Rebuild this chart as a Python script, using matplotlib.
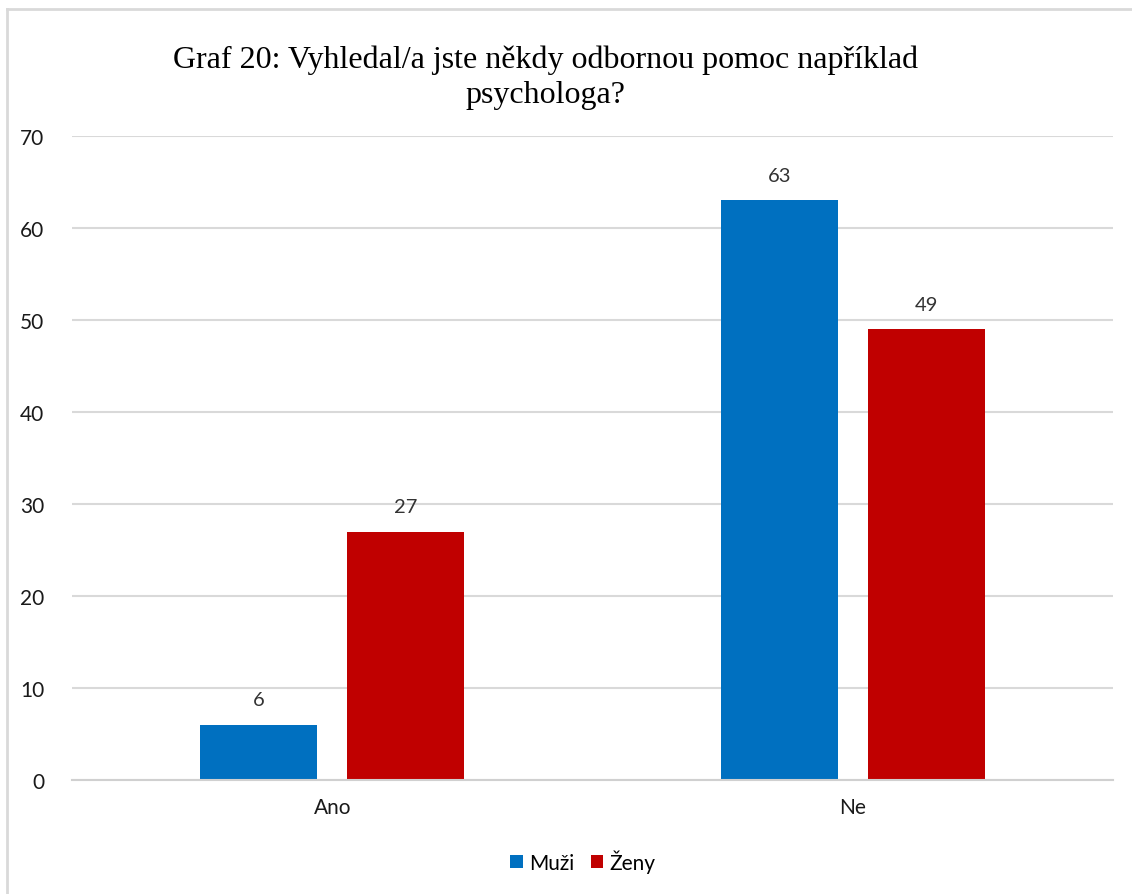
import matplotlib
matplotlib.use('Agg')
from matplotlib import pyplot as plt
from matplotlib.lines import Line2D
import numpy as np

categories = ['Ano', 'Ne']
muzi = [6, 63]
zeny = [27, 49]
series_names = ['Muži', 'Ženy']
colors = ['#0070C0', '#C00000']
yticks = [0, 10, 20, 30, 40, 50, 60, 70]

plt.rcParams['font.family'] = ['Lato', 'DejaVu Sans']

fig = plt.figure(figsize=(11.32, 8.95), dpi=100)
ax = fig.add_axes([0.0636, 0.1274, 0.9196, 0.7195])

x = np.arange(len(categories))
w = 0.225
off = 0.141
b1 = ax.bar(x - off, muzi, w, color=colors[0], label=series_names[0])
b2 = ax.bar(x + off, zeny, w, color=colors[1], label=series_names[1])

for bars in (b1, b2):
    for b in bars:
        ax.annotate(str(int(b.get_height())), (b.get_x() + b.get_width() / 2, b.get_height()),
                    xytext=(0, 12), textcoords='offset points', ha='center', va='bottom',
                    fontsize=14.5, color='#333333')

ax.set_xlim(-0.5, 1.5)
ax.set_ylim(0, 70)
ax.set_yticks(yticks)
ax.set_xticks(x)
ax.set_xticklabels(categories)
ax.yaxis.grid(True, color='#d9d9d9', linewidth=1.5)
ax.set_axisbelow(True)
for s in ['top', 'right', 'left']:
    ax.spines[s].set_visible(False)
ax.spines['bottom'].set_color('#d0d0d0')
ax.spines['bottom'].set_linewidth(1.5)
ax.tick_params(axis='both', length=0, labelsize=15, labelcolor='#1a1a1a')
ax.tick_params(axis='y', pad=20)
ax.tick_params(axis='x', pad=12)

fig.text(0.482, 0.913, 'Graf 20: Vyhledal/a jste někdy odbornou pomoc například\npsychologa?',
         ha='center', va='center', fontsize=23, family=['Liberation Serif', 'DejaVu Serif'],
         linespacing=1.3)

leg = fig.legend(loc='center', bbox_to_anchor=(0.515, 0.037), ncol=2, frameon=False,
                 fontsize=15, handlelength=0.6, handleheight=0.6, handletextpad=0.3,
                 columnspacing=0.8)

fig.add_artist(Line2D([0.006, 1.0], [0.989, 0.989], color='#d9d9d9', linewidth=2,
                      transform=fig.transFigure))
fig.add_artist(Line2D([0.006, 0.006], [0.0, 0.989], color='#d9d9d9', linewidth=2,
                      transform=fig.transFigure))

plt.savefig('out.png', dpi=100)
